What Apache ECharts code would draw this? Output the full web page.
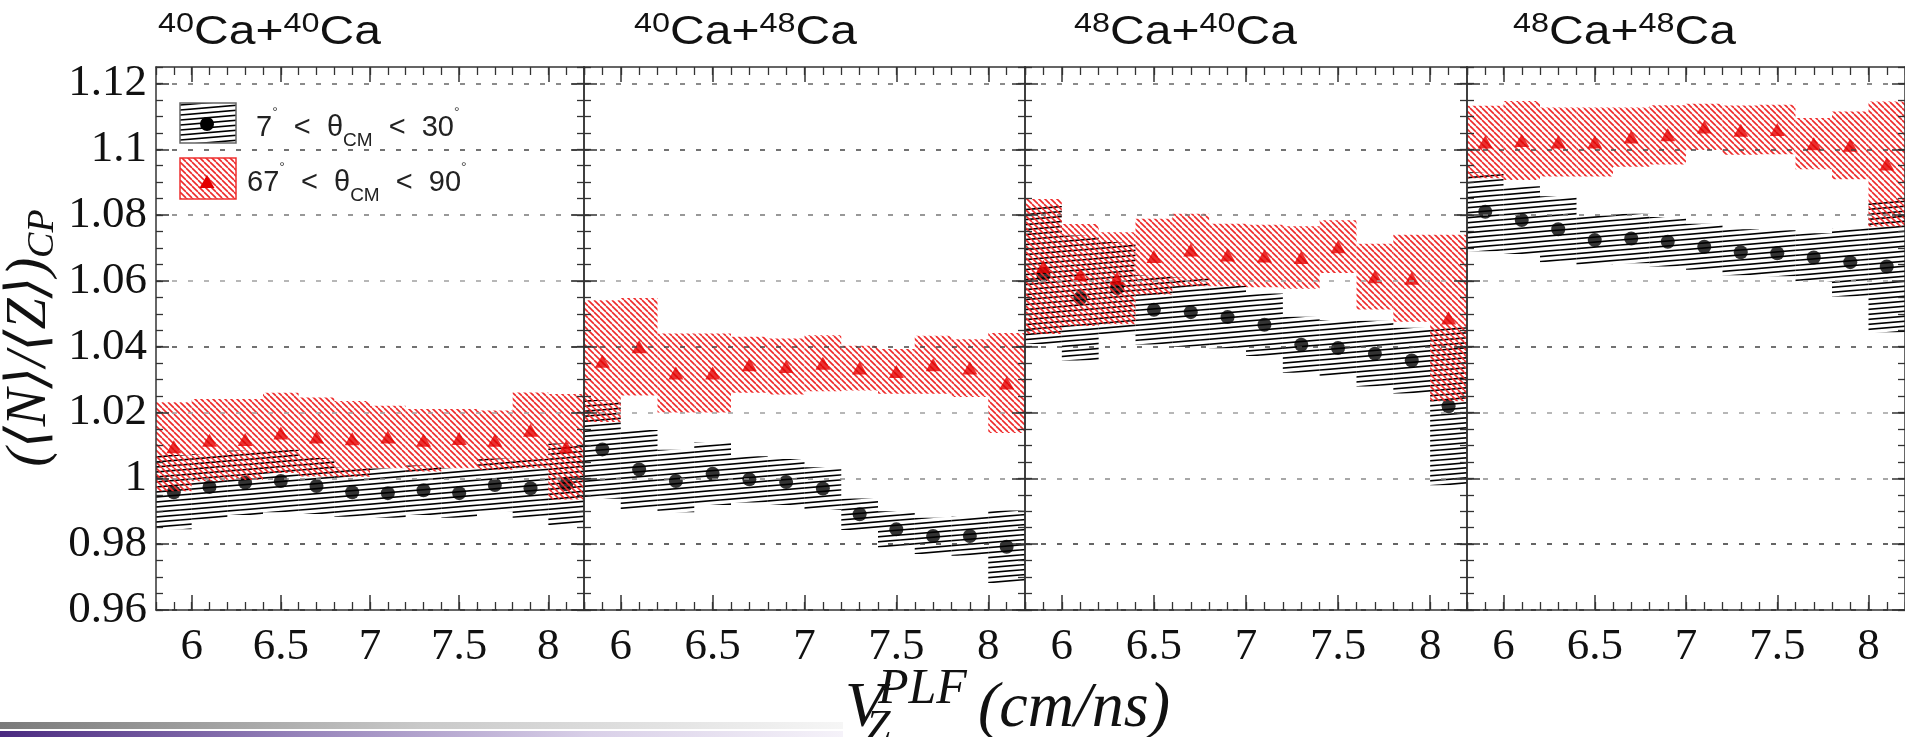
<!DOCTYPE html>
<html>
<head>
<meta charset="utf-8">
<script src="https://cdn.jsdelivr.net/npm/echarts@6.0.0/dist/echarts.min.js"></script>
<style>
  html, body { margin: 0; padding: 0; background: #fff; }
  #chart { width: 1905px; height: 737px; }
</style>
</head>
<body>
<div id="chart"></div>
<script>
// bin centres (cm/ns), each box is +-0.1 wide
const xBins = [5.9, 6.1, 6.3, 6.5, 6.7, 6.9, 7.1, 7.3, 7.5, 7.7, 7.9, 8.1];
const xTicks = [6, 6.5, 7, 7.5, 8];
const yTicks = [0.96, 0.98, 1, 1.02, 1.04, 1.06, 1.08, 1.1, 1.12];
const titleMass = [['40', '40'], ['40', '48'], ['48', '40'], ['48', '48']];

// 40Ca+40Ca
const p1FwdY = [0.9958, 0.9974, 0.9987, 0.9992, 0.9977, 0.9958, 0.9955, 0.9964, 0.9955, 0.9980, 0.9970, 0.9982];
const p1FwdErr = [0.0113, 0.0100, 0.0098, 0.0095, 0.0085, 0.0075, 0.0075, 0.0075, 0.0075, 0.0080, 0.0090, 0.0124];
const p1MidY = [1.0096, 1.0116, 1.0118, 1.0138, 1.0126, 1.0120, 1.0126, 1.0116, 1.0121, 1.0116, 1.0146, 1.0096];
const p1MidErr = [0.0135, 0.0125, 0.0123, 0.0122, 0.0120, 0.0115, 0.0095, 0.0095, 0.0090, 0.0090, 0.0115, 0.0160];
// 40Ca+48Ca
const p2FwdY = [1.0088, 1.0027, 0.9992, 1.0014, 0.9997, 0.9989, 0.9969, 0.9891, 0.9845, 0.9825, 0.9825, 0.9792];
const p2FwdErr = [0.0150, 0.0120, 0.0095, 0.0095, 0.0070, 0.0070, 0.0065, 0.0048, 0.0055, 0.0055, 0.0060, 0.0110];
const p2MidY = [1.0356, 1.0400, 1.0320, 1.0320, 1.0345, 1.0340, 1.0350, 1.0335, 1.0325, 1.0345, 1.0335, 1.0290];
const p2MidErr = [0.0185, 0.0148, 0.0120, 0.0120, 0.0085, 0.0085, 0.0085, 0.0068, 0.0068, 0.0088, 0.0088, 0.0152];
// 48Ca+40Ca
const p3FwdY = [1.0618, 1.0548, 1.0578, 1.0512, 1.0505, 1.0490, 1.0467, 1.0406, 1.0396, 1.0379, 1.0358, 1.0219];
const p3FwdErr = [0.0210, 0.0190, 0.0140, 0.0105, 0.0105, 0.0095, 0.0095, 0.0085, 0.0085, 0.0100, 0.0100, 0.0240];
const p3MidY = [1.0644, 1.0618, 1.0608, 1.0674, 1.0694, 1.0679, 1.0676, 1.0671, 1.0704, 1.0613, 1.0608, 1.0487];
const p3MidErr = [0.0205, 0.0155, 0.0140, 0.0115, 0.0110, 0.0095, 0.0095, 0.0095, 0.0080, 0.0100, 0.0132, 0.0253];
// 48Ca+48Ca
const p4FwdY = [1.0810, 1.0785, 1.0757, 1.0724, 1.0729, 1.0719, 1.0704, 1.0687, 1.0684, 1.0671, 1.0657, 1.0644];
const p4FwdErr = [0.0120, 0.0103, 0.0100, 0.0075, 0.0075, 0.0075, 0.0070, 0.0070, 0.0070, 0.0074, 0.0104, 0.0200];
const p4MidY = [1.1022, 1.1027, 1.1022, 1.1022, 1.1037, 1.1044, 1.1068, 1.1058, 1.1060, 1.1017, 1.1012, 1.0955];
const p4MidErr = [0.0110, 0.0120, 0.0105, 0.0105, 0.0090, 0.0090, 0.0070, 0.0075, 0.0075, 0.0078, 0.0103, 0.0190];

const fwdY = [p1FwdY, p2FwdY, p3FwdY, p4FwdY];
const fwdErr = [p1FwdErr, p2FwdErr, p3FwdErr, p4FwdErr];
const midY = [p1MidY, p2MidY, p3MidY, p4MidY];
const midErr = [p1MidErr, p2MidErr, p3MidErr, p4MidErr];

const panels = [
  { left: 156, width: 428 },
  { left: 584, width: 441 },
  { left: 1025, width: 442 },
  { left: 1467, width: 438 }
];
const titleLeft = [158, 634, 1074, 1513];

const serif = "'Liberation Serif', 'DejaVu Serif', serif";
const sans = "'Liberation Sans', Arial, sans-serif";
const frame = { color: '#333', width: 1.5 };
const dashColors = ['#333', '#333', '#8a8a8a', '#a0a0a0', '#444', '#a0a0a0', '#777', '#444', '#666', '#666'];

// hatch tiles like ROOT fill styles
function hatchBlack() {
  const c = document.createElement('canvas');
  c.width = 60; c.height = 5;
  const ctx = c.getContext('2d');
  ctx.strokeStyle = '#000';
  ctx.lineWidth = 1.7;
  for (let k = -1; k <= 1; k++) {
    ctx.beginPath();
    ctx.moveTo(0, 5 + k * 5);
    ctx.lineTo(60, k * 5);
    ctx.stroke();
  }
  return { image: c, repeat: 'repeat' };
}
function hatchRed() {
  const c = document.createElement('canvas');
  c.width = 6; c.height = 6;
  const ctx = c.getContext('2d');
  ctx.strokeStyle = '#ee2a2a';
  ctx.lineWidth = 1.6;
  for (let k = -1; k <= 1; k++) {
    ctx.beginPath();
    ctx.moveTo(k * 6, 0);
    ctx.lineTo(k * 6 + 6, 6);
    ctx.stroke();
  }
  return { image: c, repeat: 'repeat' };
}
const blackFill = hatchBlack();
const redFill = hatchRed();

function boxRenderer(fill) {
  return function (params, api) {
    const x = api.value(0), y = api.value(1), e = api.value(2);
    const a = api.coord([x - 0.1, y + e]);
    const b = api.coord([x + 0.1, y - e]);
    const cs = params.coordSys;
    const rect = echarts.graphic.clipRectByRect(
      { x: a[0], y: a[1], width: b[0] - a[0], height: b[1] - a[1] },
      { x: cs.x, y: cs.y, width: cs.width, height: cs.height });
    if (!rect) return;
    return { type: 'rect', shape: rect, style: { fill: fill } };
  };
}

const grids = [], xAxes = [], yAxes = [], series = [], graphics = [];

panels.forEach(function (p, i) {
  grids.push({ left: p.left, width: p.width, top: 67, height: 543 });

  const xBase = { gridIndex: i, type: 'value', min: 5.8, max: 8.2, z: 10, splitLine: { show: false } };
  ['bottom', 'top'].forEach(function (pos) {
    xAxes.push(Object.assign({}, xBase, {
      position: pos,
      axisLine: { show: true, onZero: false, lineStyle: frame },
      axisTick: { inside: true, length: 15, customValues: xTicks, lineStyle: frame },
      axisLabel: pos === 'bottom'
        ? { customValues: xTicks, fontFamily: serif, fontSize: 45, color: '#111', margin: 15 }
        : { show: false }
    }));
    xAxes.push(Object.assign({}, xBase, {
      position: pos, interval: 0.1,
      axisLine: { show: false },
      axisTick: { inside: true, length: 8, lineStyle: { color: '#333', width: 1.3 } },
      axisLabel: { show: false }
    }));
  });

  const yBase = { gridIndex: i, type: 'value', min: 0.96, max: 1.125, z: 10 };
  ['left', 'right'].forEach(function (pos) {
    yAxes.push(Object.assign({}, yBase, {
      position: pos, interval: 0.02,
      axisLine: { show: true, onZero: false, lineStyle: frame },
      axisTick: { inside: true, length: 13, customValues: yTicks, lineStyle: frame },
      axisLabel: (pos === 'left' && i === 0)
        ? { customValues: yTicks, fontFamily: serif, fontSize: 45, color: '#111', margin: 9 }
        : { show: false },
      splitLine: pos === 'left'
        ? { show: true, lineStyle: { color: dashColors, width: 1.6, type: [5, 11] } }
        : { show: false }
    }));
    yAxes.push(Object.assign({}, yBase, {
      position: pos, interval: 0.005,
      axisLine: { show: false },
      axisTick: { inside: true, length: 7, lineStyle: { color: '#333', width: 1.3 } },
      axisLabel: { show: false },
      splitLine: { show: false }
    }));
  });

  const fwdData = xBins.map(function (x, k) { return [x, fwdY[i][k], fwdErr[i][k]]; });
  const midData = xBins.map(function (x, k) { return [x, midY[i][k], midErr[i][k]]; });
  const ax = { xAxisIndex: 4 * i, yAxisIndex: 4 * i };

  series.push(Object.assign({ type: 'custom', z: 2, renderItem: boxRenderer(blackFill), data: fwdData, silent: true }, ax));
  series.push(Object.assign({ type: 'scatter', z: 3, symbol: 'circle', symbolSize: 14,
    itemStyle: { color: '#000' }, data: fwdData.map(function (d) { return [d[0], d[1]]; }) }, ax));
  series.push(Object.assign({ type: 'custom', z: 4, renderItem: boxRenderer(redFill), data: midData, silent: true }, ax));
  series.push(Object.assign({ type: 'scatter', z: 5, symbol: 'triangle', symbolSize: [15, 13],
    itemStyle: { color: '#e30000' }, data: midData.map(function (d) { return [d[0], d[1]]; }) }, ax));

  // panel title, e.g. 40Ca+48Ca (font looks stretched sideways in the original)
  graphics.push({
    type: 'text', x: titleLeft[i], y: 11, scaleX: 1.2, z: 30,
    style: {
      text: '{sup|' + titleMass[i][0] + '}{main|Ca+}{sup|' + titleMass[i][1] + '}{main|Ca}',
      rich: {
        main: { fontFamily: sans, fontSize: 40, fill: '#111', lineHeight: 44 },
        sup: { fontFamily: sans, fontSize: 27, fill: '#111', lineHeight: 16, verticalAlign: 'top' }
      }
    }
  });
});

const legendRich = {
  n: { fontFamily: sans, fontSize: 29, fill: '#222', lineHeight: 44 },
  deg: { fontFamily: sans, fontSize: 14, fill: '#444', lineHeight: 12, verticalAlign: 'top' },
  sub: { fontFamily: sans, fontSize: 19, fill: '#222', lineHeight: 30, verticalAlign: 'bottom' }
};

graphics.push(
  // legend
  { type: 'rect', shape: { x: 180, y: 103, width: 56, height: 40 }, style: { fill: blackFill, stroke: '#666', lineWidth: 1.5 }, z: 20 },
  { type: 'circle', shape: { cx: 207, cy: 124, r: 7 }, style: { fill: '#000' }, z: 21 },
  { type: 'rect', shape: { x: 180, y: 158, width: 56, height: 41 }, style: { fill: redFill, stroke: '#ee3030', lineWidth: 1.5 }, z: 20 },
  { type: 'polygon', shape: { points: [[207, 175], [214.5, 188], [199.5, 188]] }, style: { fill: '#e30000' }, z: 21 },
  { type: 'text', x: 256, y: 106, z: 21, style: { text: '{n|7}{deg|°}{n|  <  θ}{sub|CM}{n|  <  30}{deg|°}', rich: legendRich } },
  { type: 'text', x: 247, y: 161, z: 21, style: { text: '{n|67}{deg|°}{n|  <  θ}{sub|CM}{n|  <  90}{deg|°}', rich: legendRich } },
  // y axis title
  {
    type: 'text', x: 30, y: 338, rotation: Math.PI / 2,
    style: {
      text: '{m|(⟨N⟩/⟨Z⟩)}{s|CP}', align: 'center', verticalAlign: 'middle',
      rich: {
        m: { fontFamily: serif, fontStyle: 'italic', fontSize: 56, fill: '#111', lineHeight: 64 },
        s: { fontFamily: serif, fontStyle: 'italic', fontSize: 38, fill: '#111', lineHeight: 36, verticalAlign: 'bottom' }
      }
    }
  },
  // x axis title
  { type: 'text', x: 845, y: 709, style: { text: 'V', fontFamily: serif, fontStyle: 'italic', fontSize: 64, fill: '#111', verticalAlign: 'middle' } },
  { type: 'text', x: 878, y: 690, style: { text: 'PLF', fontFamily: serif, fontStyle: 'italic', fontSize: 50, fill: '#111', verticalAlign: 'middle' } },
  { type: 'text', x: 866, y: 728, style: { text: 'Z', fontFamily: serif, fontStyle: 'italic', fontSize: 44, fill: '#111', verticalAlign: 'middle' } },
  { type: 'text', x: 978, y: 709, style: { text: '(cm/ns)', fontFamily: serif, fontStyle: 'italic', fontSize: 64, fill: '#111', verticalAlign: 'middle' } },
  // slide decoration bars
  { type: 'rect', shape: { x: 0, y: 722, width: 843, height: 7 }, silent: true,
    style: { fill: { type: 'linear', x: 0, y: 0, x2: 1, y2: 0, colorStops: [
      { offset: 0, color: '#7a7a7a' }, { offset: 0.5, color: '#c9c9c9' }, { offset: 1, color: '#f6f6f6' }] } } },
  { type: 'rect', shape: { x: 0, y: 731, width: 843, height: 6 }, silent: true,
    style: { fill: { type: 'linear', x: 0, y: 0, x2: 1, y2: 0, colorStops: [
      { offset: 0, color: '#4a2a80' }, { offset: 0.35, color: '#9582b9' }, { offset: 0.7, color: '#d9d0e8' }, { offset: 1, color: '#f5f2f9' }] } } }
);

const chart = echarts.init(document.getElementById('chart'), null, { renderer: 'canvas' });
chart.setOption({
  animation: false,
  backgroundColor: '#fff',
  grid: grids,
  xAxis: xAxes,
  yAxis: yAxes,
  series: series,
  graphic: graphics
});
</script>
</body>
</html>
